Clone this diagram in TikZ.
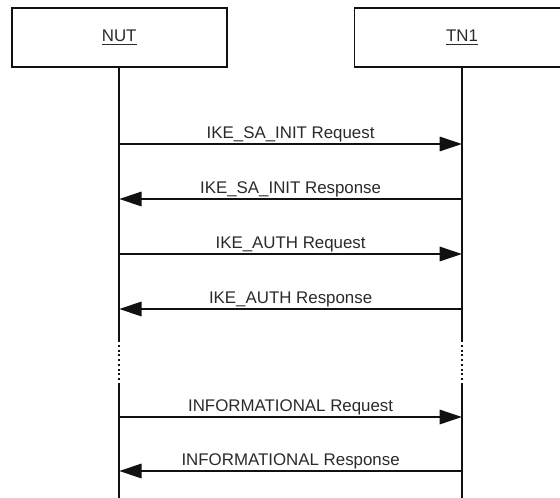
\documentclass[tikz,border=0pt]{standalone}
\usepackage{fontspec}
\setmainfont{Liberation Sans}
\usetikzlibrary{arrows.meta,positioning}
\definecolor{SeqInk}{HTML}{111111}
\definecolor{SeqText}{HTML}{2A2A2A}

\begin{document}
\begin{tikzpicture}[
    party/.style={draw=SeqInk,line width=1.4pt,minimum width=5.375cm,minimum height=1.475cm,font=\fontsize{12}{14}\selectfont,text=SeqText},
    life/.style={SeqInk,line width=1.4pt},
    gap/.style={SeqInk,line width=1.4pt,dotted},
    msg/.style={-{Triangle[length=5.6mm,width=3.6mm]},SeqInk,line width=1.4pt},
    lbl/.style={font=\fontsize{12}{14}\selectfont,text=SeqText,inner sep=1pt,above}
  ]
    \useasboundingbox (0,0) rectangle (14,-12.45);
    \clip (0,0) rectangle (14,-12.45);

    \node[party] (nut) at (2.98,-0.94) {\underline{NUT}};
    \node[party] (tn1) at (11.55,-0.94) {\underline{TN1}};

    % lifelines
    \coordinate (nutA) at (2.98,-8.5);
    \coordinate (nutB) at (2.98,-9.625);
    \coordinate (nutEnd) at (2.98,-12.45);
    \coordinate (tnA) at (11.55,-8.5);
    \coordinate (tnB) at (11.55,-9.625);
    \coordinate (tnEnd) at (11.55,-12.45);
    \draw[life] (nut.south) -- (nutA);
    \draw[gap] (nutA) -- (nutB);
    \draw[life] (nutB) -- (nutEnd);
    \draw[life] (tn1.south) -- (tnA);
    \draw[gap] (tnA) -- (tnB);
    \draw[life] (tnB) -- (tnEnd);

    % messages
    \coordinate (n1) at (2.98,-3.6);    \coordinate (t1) at (11.55,-3.6);
    \coordinate (n2) at (2.98,-4.975);  \coordinate (t2) at (11.55,-4.975);
    \coordinate (n3) at (2.98,-6.35);   \coordinate (t3) at (11.55,-6.35);
    \coordinate (n4) at (2.98,-7.725);  \coordinate (t4) at (11.55,-7.725);
    \coordinate (n5) at (2.98,-10.425); \coordinate (t5) at (11.55,-10.425);
    \coordinate (n6) at (2.98,-11.775); \coordinate (t6) at (11.55,-11.775);
    \draw[msg] (n1) -- node[lbl] {IKE\_SA\_INIT Request} (t1);
    \draw[msg] (t2) -- node[lbl] {IKE\_SA\_INIT Response} (n2);
    \draw[msg] (n3) -- node[lbl] {IKE\_AUTH Request} (t3);
    \draw[msg] (t4) -- node[lbl] {IKE\_AUTH Response} (n4);
    \draw[msg] (n5) -- node[lbl] {INFORMATIONAL Request} (t5);
    \draw[msg] (t6) -- node[lbl] {INFORMATIONAL Response} (n6);
  \end{tikzpicture}
\end{document}
